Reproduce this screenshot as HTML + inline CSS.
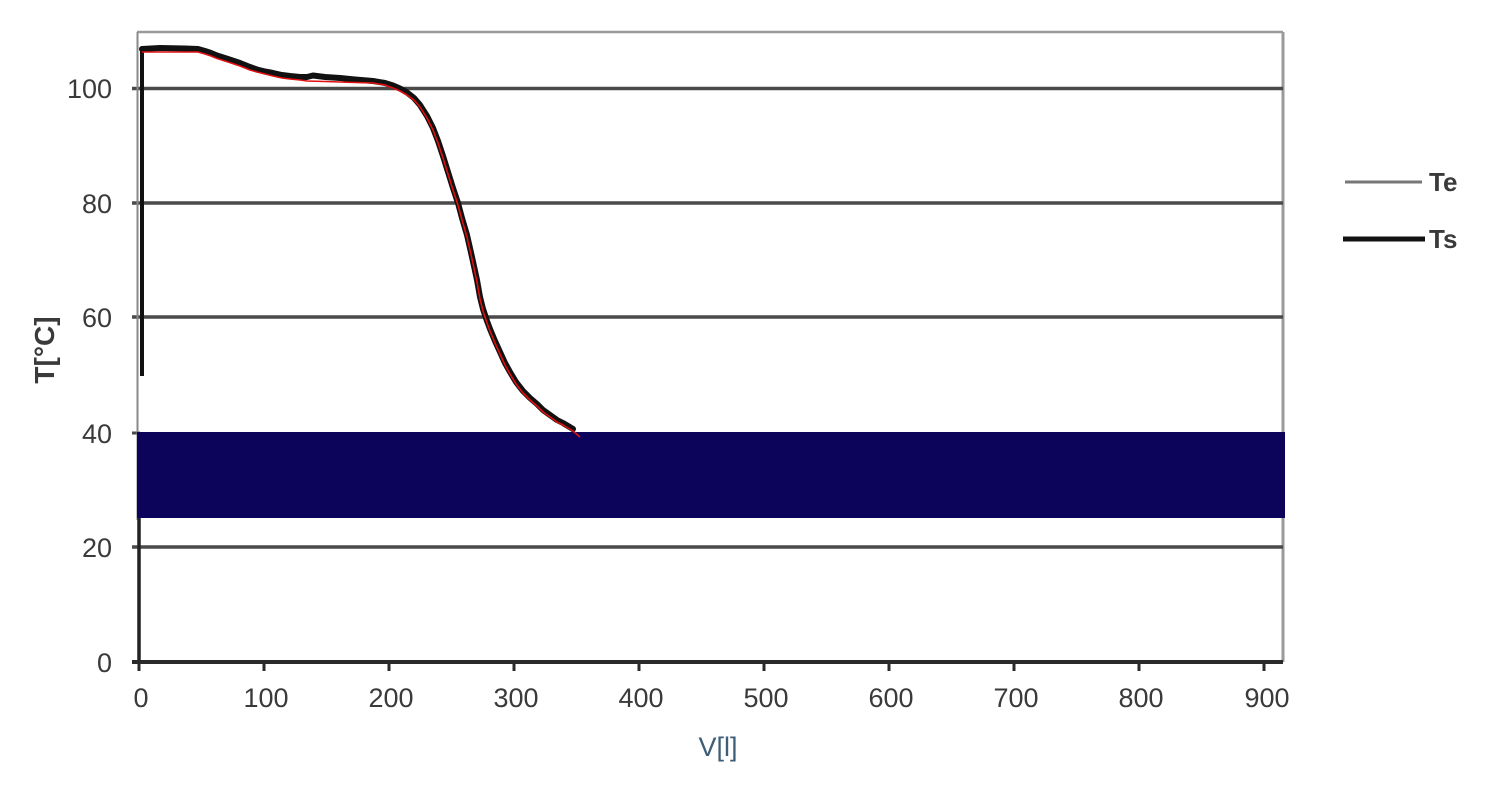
<!DOCTYPE html>
<html>
<head>
<meta charset="utf-8">
<style>
  html,body{margin:0;padding:0;background:#fff;}
  svg{display:block;}
  text{font-family:"Liberation Sans", "DejaVu Sans", sans-serif;fill:#3a3a3a;}
</style>
</head>
<body>
<svg width="1500" height="787" viewBox="0 0 1500 787" xmlns="http://www.w3.org/2000/svg">
  <rect x="0" y="0" width="1500" height="787" fill="#fff"/>
  <!-- plot border top/right -->
  <line x1="137" y1="32" x2="1283" y2="32" stroke="#9a9a9a" stroke-width="2.5"/>
  <line x1="1283" y1="32" x2="1283" y2="662" stroke="#9a9a9a" stroke-width="3"/>
  <!-- gridlines -->
  <g stroke="#4a4a4a" stroke-width="3.5">
    <line x1="132" y1="88.5" x2="1283" y2="88.5"/>
    <line x1="132" y1="203" x2="1283" y2="203"/>
    <line x1="132" y1="317" x2="1283" y2="317"/>
    <line x1="132" y1="547" x2="1283" y2="547"/>
  </g>
  <line x1="132" y1="433" x2="140" y2="433" stroke="#4a4a4a" stroke-width="3"/>
  <!-- left axis -->
  <line x1="137.5" y1="32" x2="137.5" y2="520" stroke="#8a8a8a" stroke-width="2"/>
  <line x1="139" y1="518" x2="139" y2="662" stroke="#222" stroke-width="3.5"/>
  <!-- band -->
  <rect x="137" y="432" width="1148" height="86" fill="#0c045a"/>
  <!-- x axis -->
  <line x1="132" y1="662" x2="1283" y2="662" stroke="#2a2a2a" stroke-width="4"/>
  <g stroke="#2a2a2a" stroke-width="3">
    <line x1="139" y1="660" x2="139" y2="671"/>
    <line x1="264" y1="660" x2="264" y2="671"/>
    <line x1="389" y1="660" x2="389" y2="671"/>
    <line x1="514" y1="660" x2="514" y2="671"/>
    <line x1="639" y1="660" x2="639" y2="671"/>
    <line x1="764" y1="660" x2="764" y2="671"/>
    <line x1="889" y1="660" x2="889" y2="671"/>
    <line x1="1014" y1="660" x2="1014" y2="671"/>
    <line x1="1139" y1="660" x2="1139" y2="671"/>
    <line x1="1264" y1="660" x2="1264" y2="671"/>
  </g>
  <!-- y labels -->
  <g font-size="27" text-anchor="end">
    <text x="112" y="98">100</text>
    <text x="112" y="213">80</text>
    <text x="112" y="327">60</text>
    <text x="112" y="443">40</text>
    <text x="112" y="557">20</text>
    <text x="112" y="672">0</text>
  </g>
  <!-- x labels -->
  <g font-size="27" text-anchor="middle">
    <text x="141" y="707">0</text>
    <text x="266" y="707">100</text>
    <text x="391" y="707">200</text>
    <text x="516" y="707">300</text>
    <text x="641" y="707">400</text>
    <text x="766" y="707">500</text>
    <text x="891" y="707">600</text>
    <text x="1016" y="707">700</text>
    <text x="1141" y="707">800</text>
    <text x="1267" y="707">900</text>
  </g>
  <!-- axis titles -->
  <text x="718" y="756" font-size="27" text-anchor="middle" style="fill:#3d5e78">V[l]</text>
  <text transform="translate(54,350) rotate(-90)" font-size="28" font-weight="bold" text-anchor="middle">T[°C]</text>
  <!-- data: vertical start -->
  <line x1="142" y1="376" x2="142" y2="48" stroke="#111" stroke-width="4"/>
  <!-- Ts black -->
  <polyline fill="none" stroke="#111" stroke-width="6" stroke-linejoin="round" stroke-linecap="round"
    points="142,49 160,48 185,48.5 198,49 205,51 211,53 217,55.5 228,59 240,63 250,67 257,69.5 265,71.5 273,73 282,75 290,76 300,77 307,77 313,75.5 325,77 340,78 355,79.5 373,81 385,83 393,85.5 400,88.5 407,92.5 414,98 420,105 427,116 433,128 438,141 443,156 448,172 453,188 458,203 462,218 467,235 472,257 477,280 480,297 483,309 487,321 490,329 495,341 500,352 505,363 510,372 516,382 523,391 530,398 537,404 543,410 550,415 557,420 563,423 568,426 573,429"/>
  <!-- Te red thin -->
  <polyline fill="none" stroke="#e01010" stroke-width="1.6" stroke-linejoin="round"
    points="142,52 160,52 185,52 198,52 205,54 211,56 217,58.5 228,62 240,66 250,70 257,72 265,74 273,76 282,78 290,79 300,80 307,81 325,81.5 340,82 355,82.5 373,83 385,85 393,88 400,91 407,95 414,100 420,107 427,118 433,130 438,143 443,158 448,174 453,190 458,205 462,220 467,237 472,259 477,282 480,299 483,311 487,323 490,331 495,343 500,354 505,365 510,374 516,384 523,393 530,400 537,406 543,412 550,417 557,422 563,425 568,428 573,431 580,437"/>
  <!-- legend -->
  <line x1="1345" y1="182" x2="1422" y2="182" stroke="#777" stroke-width="3"/>
  <text x="1429" y="191" font-size="26" font-weight="bold">Te</text>
  <line x1="1343" y1="239" x2="1425" y2="239" stroke="#111" stroke-width="5"/>
  <text x="1429" y="248" font-size="26" font-weight="bold">Ts</text>
</svg>
</body>
</html>
